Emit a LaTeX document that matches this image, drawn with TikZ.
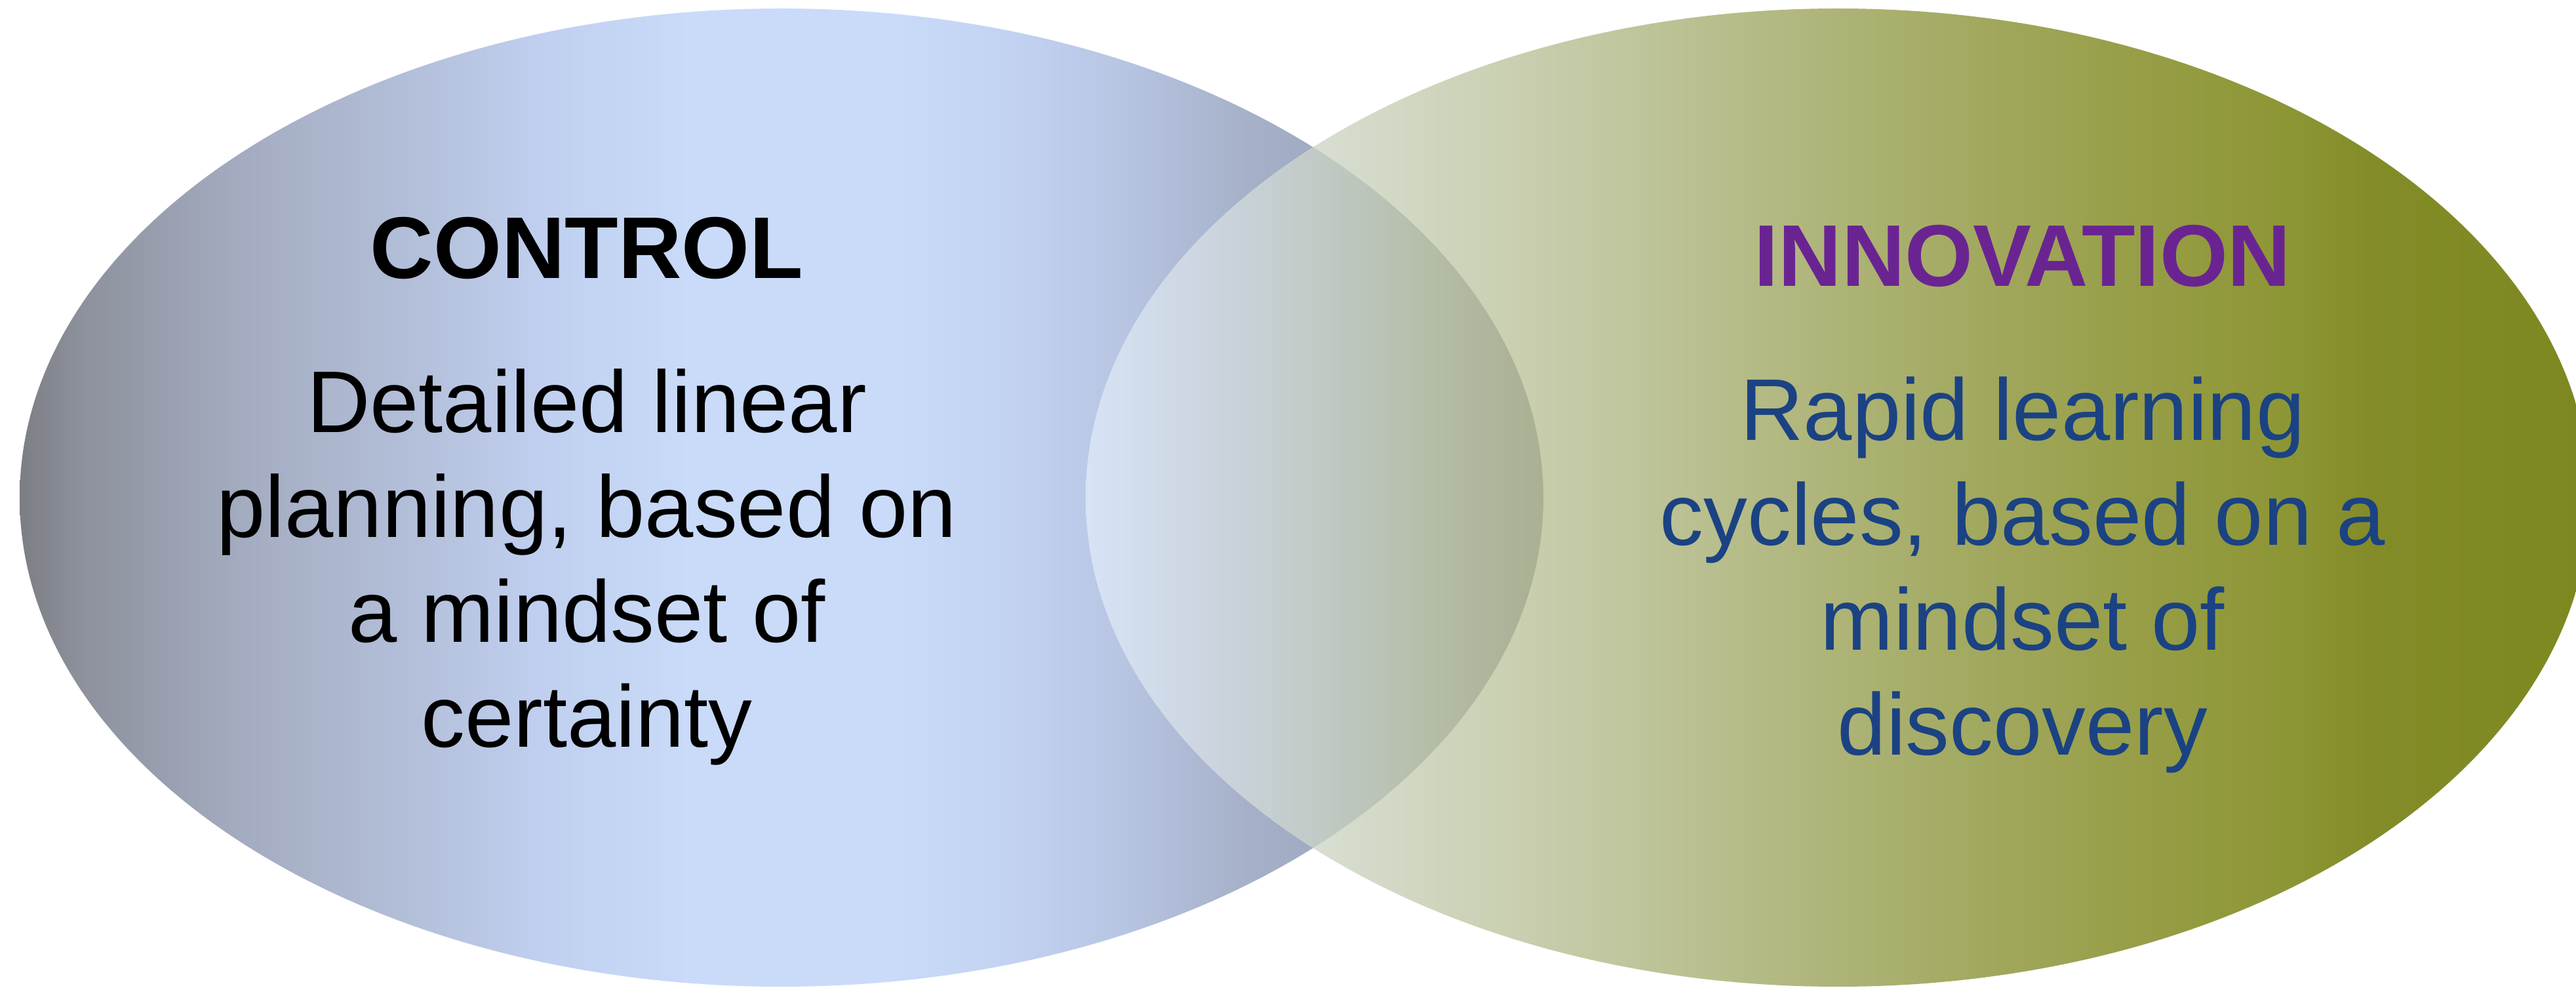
\documentclass[tikz,border=0pt]{standalone}
\usepackage{fontspec}
\setsansfont{Liberation Sans}
\usepackage{tikz}
\definecolor{ink}{HTML}{000000}
\definecolor{innovpurple}{HTML}{6A2492}
\definecolor{innovblue}{HTML}{1B4282}
% control ellipse, left to right
\definecolor{ctrlA}{HTML}{7C7E84}
\definecolor{ctrlB}{HTML}{8D919C}
\definecolor{ctrlC}{HTML}{A2AABE}
\definecolor{ctrlD}{HTML}{B3BFD9}
\definecolor{ctrlE}{HTML}{C0CFEF}
\definecolor{ctrlF}{HTML}{C9DBF9}
\definecolor{ctrlG}{HTML}{C4D5F3}
\definecolor{ctrlH}{HTML}{B8C6E4}
\definecolor{ctrlI}{HTML}{A6B0C8}
\definecolor{ctrlJ}{HTML}{8E97AE}
% innovation ellipse, left to right
\definecolor{innoA}{HTML}{DFE5DC}
\definecolor{innoB}{HTML}{D8DED2}
\definecolor{innoC}{HTML}{CCD2B6}
\definecolor{innoD}{HTML}{BEC49A}
\definecolor{innoE}{HTML}{B0B67C}
\definecolor{innoF}{HTML}{A2A960}
\definecolor{innoG}{HTML}{979E47}
\definecolor{innoH}{HTML}{8C9533}
\definecolor{innoI}{HTML}{838C28}
\definecolor{innoJ}{HTML}{7D8820}
% overlap
\definecolor{lapA}{HTML}{D7E3F6}
\definecolor{lapB}{HTML}{CBD4DE}
\definecolor{lapC}{HTML}{C1CAC5}
\definecolor{lapD}{HTML}{B6BFAB}
\definecolor{lapE}{HTML}{ACB296}
\definecolor{lapF}{HTML}{AAB092}
\pgfdeclarehorizontalshading{controlfill}{100bp}{
  color(0bp)=(ctrlA); color(25bp)=(ctrlA); color(27bp)=(ctrlB);
  color(31.9bp)=(ctrlC); color(37.8bp)=(ctrlD); color(42.1bp)=(ctrlE);
  color(47bp)=(ctrlF); color(53.5bp)=(ctrlF); color(56.7bp)=(ctrlG);
  color(61bp)=(ctrlH); color(65.3bp)=(ctrlI); color(75bp)=(ctrlJ);
  color(100bp)=(ctrlJ)}
\pgfdeclarehorizontalshading{innovationfill}{100bp}{
  color(0bp)=(innoA); color(25bp)=(innoA); color(32.6bp)=(innoB);
  color(38.1bp)=(innoC); color(43.5bp)=(innoD); color(49bp)=(innoE);
  color(54.5bp)=(innoF); color(59.9bp)=(innoG); color(65.4bp)=(innoH);
  color(67.6bp)=(innoI); color(75bp)=(innoJ); color(100bp)=(innoJ)}
\pgfdeclarehorizontalshading{overlapfill}{100bp}{
  color(0bp)=(lapA); color(25bp)=(lapA); color(29.3bp)=(lapB);
  color(32.7bp)=(lapC); color(36bp)=(lapD); color(39.3bp)=(lapE);
  color(40.3bp)=(lapF); color(100bp)=(lapF)}
\tikzset{
  font=\sffamily,
  title/.style={
    font=\sffamily\bfseries\fontsize{38pt}{45.5pt}\selectfont,
    text=ink,
    inner sep=0pt
  },
  bodytext/.style={
    font=\sffamily\fontsize{38pt}{45.5pt}\selectfont,
    text=ink,
    align=center,
    inner sep=0pt
  }
}
\begin{document}
\begin{tikzpicture}[x=1mm,y=1mm]
  \useasboundingbox (0,0) rectangle (392.9,150.7);

  \shade[shading=controlfill] (119.2,74.8) ellipse [x radius=116.2, y radius=74.6];
  \shade[shading=innovationfill] (280.3,74.8) ellipse [x radius=114.7, y radius=74.6];
  \begin{scope}
    \clip (119.2,74.8) ellipse [x radius=116.2, y radius=74.6];
    \shade[shading=overlapfill] (280.3,74.8) ellipse [x radius=114.7, y radius=74.6];
  \end{scope}

  \node[title, anchor=base] (control_title) at (89.5,108.2) {CONTROL};
  \node[bodytext, anchor=north] (control_text) at (89.5,94.5)
    {Detailed linear\\planning, based on\\a mindset of\\certainty};

  \node[title, anchor=base, text=innovpurple] (innovation_title) at (308.5,107.0) {INNOVATION};
  \node[bodytext, anchor=north, text=innovblue] (innovation_text) at (308.5,93.3)
    {Rapid learning\\cycles, based on a\\mindset of\\discovery};
\end{tikzpicture}
\end{document}
